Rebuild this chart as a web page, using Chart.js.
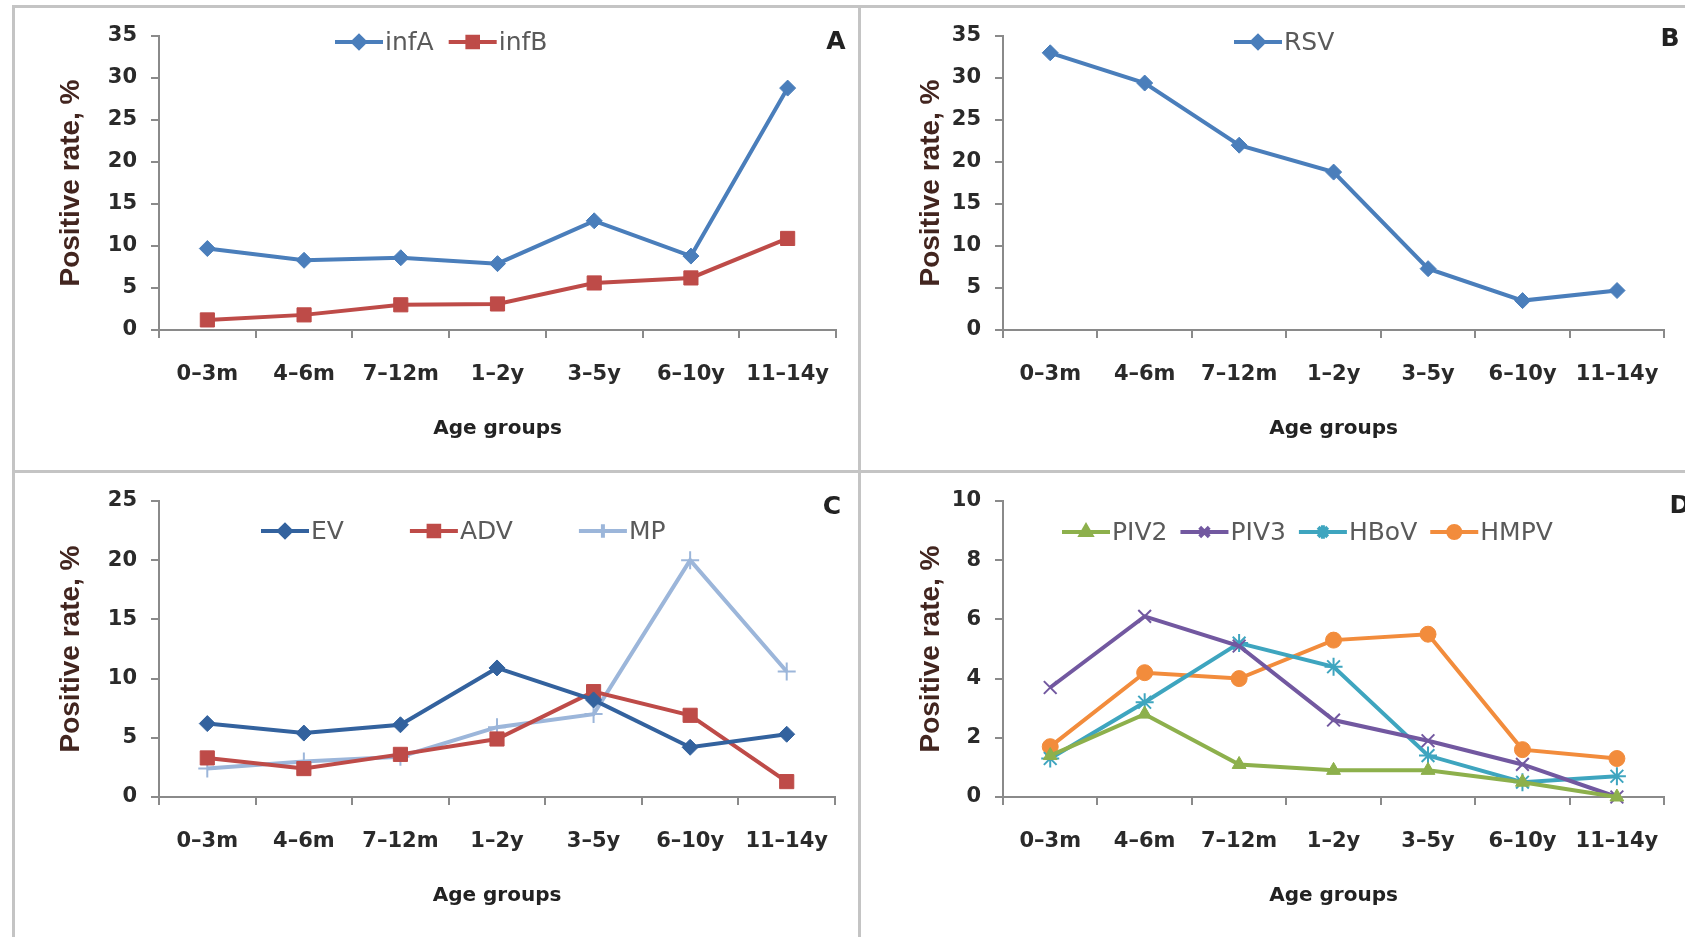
<!DOCTYPE html>
<html><head><meta charset="utf-8">
<script src="https://cdn.jsdelivr.net/npm/chart.js@4.4.0/dist/chart.umd.min.js"></script>
<style>
html,body{margin:0;padding:0;background:#fff;}
#wrap{position:relative;width:1685px;height:937px;overflow:hidden;background:#fff;}
.pane{position:absolute;}
.ln{position:absolute;background:#c4c4c4;}
</style></head><body>
<div id="wrap">
 <div class="pane" style="left:0;top:0;"><canvas id="cA" width="860" height="470"></canvas></div>
 <div class="pane" style="left:860px;top:0;"><canvas id="cB" width="825" height="470"></canvas></div>
 <div class="pane" style="left:0;top:470px;"><canvas id="cC" width="860" height="467"></canvas></div>
 <div class="pane" style="left:860px;top:470px;"><canvas id="cD" width="825" height="467"></canvas></div>
 <div class="ln" style="left:12px;top:5px;width:1673px;height:3px"></div>
 <div class="ln" style="left:12px;top:5px;width:3px;height:932px"></div>
 <div class="ln" style="left:858px;top:5px;width:3px;height:932px"></div>
 <div class="ln" style="left:12px;top:470px;width:1673px;height:3px"></div>
</div>
<script>
// ---- data ----
const ageGroups = ['0–3m','4–6m','7–12m','1–2y','3–5y','6–10y','11–14y'];
const infA = [9.7, 8.3, 8.6, 7.9, 13.0, 8.8, 28.8];
const infB = [1.2, 1.8, 3.0, 3.1, 5.6, 6.2, 10.9];
const rsv  = [33.0, 29.4, 22.0, 18.8, 7.3, 3.5, 4.7];
const ev   = [6.2, 5.4, 6.1, 10.9, 8.2, 4.2, 5.3];
const adv  = [3.3, 2.4, 3.6, 4.9, 8.9, 6.9, 1.3];
const mp   = [2.4, 3.0, 3.4, 5.9, 7.0, 20.0, 10.6];
const piv2 = [1.4, 2.8, 1.1, 0.9, 0.9, 0.5, 0.0];
const piv3 = [3.7, 6.1, 5.1, 2.6, 1.9, 1.1, 0.0];
const hbov = [1.3, 3.2, 5.2, 4.4, 1.4, 0.5, 0.7];
const hmpv = [1.7, 4.2, 4.0, 5.3, 5.5, 1.6, 1.3];
const yTitle = 'Positive rate, %';
const xTitle = 'Age groups';

// ---- styling / layout ----
function drawMarker(ctx, style, r, bw, x, y){
  if (Chart.helpers && Chart.helpers.drawPoint){
    Chart.helpers.drawPoint(ctx, {pointStyle: style, radius: r, borderWidth: bw, rotation: 0}, x, y);
  }
}
const inLegend = {
  id: 'inLegend',
  afterDraw(chart, args, o){
    const ctx = chart.ctx; ctx.save();
    let x = o.x; const y = o.y;
    ctx.font = '25px "DejaVu Sans"'; ctx.textBaseline = 'middle'; ctx.textAlign = 'left';
    chart.data.datasets.forEach(ds => {
      ctx.strokeStyle = ds.borderColor; ctx.lineWidth = 4;
      ctx.beginPath(); ctx.moveTo(x, y); ctx.lineTo(x + 48, y); ctx.stroke();
      ctx.fillStyle = ds.pointBackgroundColor; ctx.strokeStyle = ds.pointBorderColor;
      drawMarker(ctx, ds.pointStyle, ds.pointRadius * 0.75, ds.pointBorderWidth, x + 24, y);
      ctx.fillStyle = '#5a5a5a';
      ctx.fillText(ds.label, x + 50, y + 1);
      x += 50 + ctx.measureText(ds.label).width + o.gap;
    });
    ctx.font = 'bold 25px "DejaVu Sans"'; ctx.fillStyle = '#222'; ctx.textAlign = 'center';
    ctx.fillText(o.letter, o.lx, o.ly);
    ctx.restore();
  }
};

function ds(label, data, color, style, r, bw){
  return {label, data, borderColor: color, backgroundColor: color,
    pointBackgroundColor: color, pointBorderColor: color, pointStyle: style,
    pointRadius: r, pointBorderWidth: bw, borderWidth: 4, tension: 0, clip: false};
}

const axisGray = '#8a8a8a';
const tickFont = {family: 'DejaVu Sans', weight: 'bold', size: 21, lineHeight: 1};
const titleFont = {family: 'DejaVu Sans', weight: 'bold', size: 20, lineHeight: 1};

function panel(id, w, h, area, yMax, yStep, datasets, leg){
  new Chart(document.getElementById(id), {
    type: 'line',
    data: {labels: ageGroups, datasets},
    options: {
      responsive: false, animation: false, devicePixelRatio: 1,
      layout: {padding: {left: 0, top: area.top, right: w - area.right, bottom: 0}},
      plugins: {legend: {display: false}, tooltip: {enabled: false}, inLegend: leg},
      scales: {
        x: {
          type: 'category', offset: true,
          grid: {display: true, offset: true, drawOnChartArea: false, drawTicks: true, tickLength: 8, color: axisGray, lineWidth: 2},
          border: {display: true, color: axisGray, width: 2},
          ticks: {color: '#2a2a2a', font: tickFont, padding: 26, maxRotation: 0, autoSkip: false},
          title: {display: true, text: xTitle, color: '#222', font: titleFont, padding: {top: 0, bottom: 31}},
          afterFit(s){ s.height = h - area.bottom; }
        },
        y: {
          min: 0, max: yMax,
          grid: {display: true, drawOnChartArea: false, drawTicks: true, tickLength: 8, color: axisGray, lineWidth: 2},
          border: {display: true, color: axisGray, width: 2},
          ticks: {stepSize: yStep, color: '#2a2a2a', font: tickFont, padding: 14},
          title: {display: true, text: yTitle, color: '#42251f', font: {family: 'Liberation Sans', weight: 'bold', size: 28, lineHeight: 1}, padding: {top: 57, bottom: 0}},
          afterFit(s){ s.width = area.left; }
        }
      }
    },
    plugins: [inLegend]
  });
}

panel('cA', 860, 470, {left: 159, right: 836, top: 36, bottom: 330}, 35, 5, [
  ds('infA', infA, '#4a7ebb', 'rectRot', 8, 1),
  ds('infB', infB, '#be4b48', 'rect', 10, 1)
], {x: 335, y: 42, gap: 15, letter: 'A', lx: 836, ly: 42});

panel('cB', 825, 470, {left: 143, right: 818, top: 36, bottom: 330}, 35, 5, [
  ds('RSV', rsv, '#4a7ebb', 'rectRot', 8, 1)
], {x: 374, y: 42, gap: 17, letter: 'B', lx: 810, ly: 39});

panel('cC', 860, 467, {left: 159, right: 835, top: 31, bottom: 327}, 25, 5, [
  ds('EV', ev, '#33629e', 'rectRot', 8, 1),
  ds('ADV', adv, '#be4b48', 'rect', 10, 1),
  ds('MP', mp, '#9cb6da', 'cross', 9, 2)
], {x: 261, y: 61, gap: 66, letter: 'C', lx: 832, ly: 37});

panel('cD', 825, 467, {left: 143, right: 818, top: 31, bottom: 327}, 10, 2, [
  ds('PIV2', piv2, '#8db04c', 'triangle', 8, 1),
  ds('PIV3', piv3, '#7258a0', 'crossRot', 9, 2),
  ds('HBoV', hbov, '#3ea5bf', 'star', 9, 2),
  ds('HMPV', hmpv, '#f28c3c', 'circle', 8, 1)
], {x: 202, y: 62, gap: 13, letter: 'D', lx: 820, ly: 36});
</script>
</body></html>
